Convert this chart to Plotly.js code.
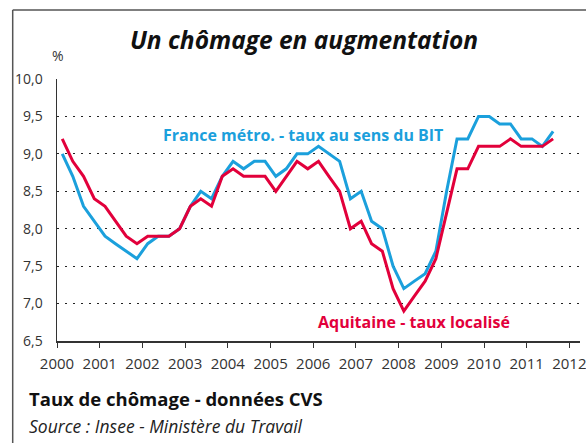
<!DOCTYPE html>
<html>
<head>
<meta charset="utf-8">
<script src="https://cdn.plot.ly/plotly-3.0.1.min.js"></script>
<style>
  html, body { margin: 0; padding: 0; background: #ffffff; }
  #chart { width: 586px; height: 443px; }
</style>
</head>
<body>
<div id="chart"></div>
<script>
// Quarterly unemployment rates, 2000 T1 -> 2011 T3 (seasonally adjusted, %)
const firstYear = 2000;
const quarterMid = ['02-15', '05-15', '08-15', '11-15'];

const franceMetro = [
  9.0, 8.7, 8.3, 8.1,
  7.9, 7.8, 7.7, 7.6,
  7.8, 7.9, 7.9, 8.0,
  8.3, 8.5, 8.4, 8.7,
  8.9, 8.8, 8.9, 8.9,
  8.7, 8.8, 9.0, 9.0,
  9.1, 9.0, 8.9, 8.4,
  8.5, 8.1, 8.0, 7.5,
  7.2, 7.3, 7.4, 7.7,
  8.5, 9.2, 9.2, 9.5,
  9.5, 9.4, 9.4, 9.2,
  9.2, 9.1, 9.3
];

const aquitaine = [
  9.2, 8.9, 8.7, 8.4,
  8.3, 8.1, 7.9, 7.8,
  7.9, 7.9, 7.9, 8.0,
  8.3, 8.4, 8.3, 8.7,
  8.8, 8.7, 8.7, 8.7,
  8.5, 8.7, 8.9, 8.8,
  8.9, 8.7, 8.5, 8.0,
  8.1, 7.8, 7.7, 7.2,
  6.9, 7.1, 7.3, 7.6,
  8.2, 8.8, 8.8, 9.1,
  9.1, 9.1, 9.2, 9.1,
  9.1, 9.1, 9.2
];

const seriesNames = ['France métro. - taux au sens du BIT', 'Aquitaine - taux localisé'];
const titleText = 'Un chômage en augmentation';
const footerTitle = 'Taux de chômage - données CVS';
const footerSource = 'Source : Insee - Ministère du Travail';
const unitLabel = '%';

const periods = franceMetro.map((_, i) =>
  (firstYear + Math.floor(i / 4)) + '-' + quarterMid[i % 4]);

const BLUE = '#1ba0dc';
const RED = '#e2003b';
const FONT = 'Open Sans, Lato, sans-serif';
const TEXT = '#1a1a1a';

const traces = [
  { x: periods, y: franceMetro, type: 'scatter', mode: 'lines', name: seriesNames[0],
    line: { color: BLUE, width: 3 }, hoverinfo: 'x+y' },
  { x: periods, y: aquitaine, type: 'scatter', mode: 'lines', name: seriesNames[1],
    line: { color: RED, width: 3 }, hoverinfo: 'x+y' }
];

const layout = {
  width: 586, height: 443,
  margin: { l: 57, r: 6, t: 79, b: 102, pad: 0 },
  paper_bgcolor: '#ffffff', plot_bgcolor: '#ffffff',
  showlegend: false,
  separators: ', ',
  font: { family: FONT, color: TEXT, size: 15 },
  title: {
    text: '<b><i>' + titleText + '</i></b>',
    font: { family: FONT, size: 24.5, color: '#111111' },
    x: 304 / 586, xanchor: 'center', xref: 'container',
    y: 1 - 40 / 443, yanchor: 'middle', yref: 'container'
  },
  xaxis: {
    type: 'date',
    range: ['2000-01-01', '2012-04-01'],
    tick0: '2000-01-01', dtick: 'M12', tickformat: '%Y',
    ticks: 'outside', ticklen: 5, tickwidth: 1, tickcolor: '#333333',
    showline: true, linecolor: '#333333', linewidth: 1.5,
    showgrid: false, zeroline: false,
    tickfont: { family: FONT, size: 15, color: '#333333' },
    ticklabelstandoff: 3,
    ticklabeloverflow: 'allow',
    fixedrange: true
  },
  yaxis: {
    range: [6.5, 10.0], tick0: 6.5, dtick: 0.5, tickformat: '.1f',
    showgrid: true, gridcolor: '#222222', gridwidth: 1, griddash: '2px,6px',
    showline: true, linecolor: '#333333', linewidth: 1.5,
    zeroline: false, ticks: '',
    tickfont: { family: FONT, size: 14, color: '#333333' },
    ticklabelstandoff: 10,
    fixedrange: true
  },
  annotations: [
    { text: '<b>' + seriesNames[0] + '</b>', xref: 'paper', yref: 'paper',
      x: (303 - 57) / 523, y: (341 - 135) / 262, xanchor: 'center', yanchor: 'middle',
      showarrow: false, font: { family: FONT, size: 16, color: BLUE } },
    { text: '<b>' + seriesNames[1] + '</b>', xref: 'paper', yref: 'paper',
      x: (414 - 57) / 523, y: (341 - 322) / 262, xanchor: 'center', yanchor: 'middle',
      showarrow: false, font: { family: FONT, size: 16, color: RED } },
    { text: unitLabel, xref: 'paper', yref: 'paper',
      x: (57.5 - 57) / 523, y: (341 - 55) / 262, xanchor: 'center', yanchor: 'middle',
      showarrow: false, font: { family: FONT, size: 14, color: '#333333' } },
    { text: '<b>' + footerTitle + '</b>', xref: 'paper', yref: 'paper',
      x: (27 - 57) / 523, y: (341 - 398) / 262, xanchor: 'left', yanchor: 'middle',
      showarrow: false, font: { family: FONT, size: 18.5, color: '#111111' } },
    { text: '<i>' + footerSource + '</i>', xref: 'paper', yref: 'paper',
      x: (27 - 57) / 523, y: (341 - 426) / 262, xanchor: 'left', yanchor: 'middle',
      showarrow: false, font: { family: FONT, size: 17.5, color: '#222222' } }
  ],
  shapes: [
    { type: 'line', xref: 'paper', yref: 'paper',
      x0: (12.7 - 57) / 523, x1: (12.7 - 57) / 523, y0: (341 - 10) / 262, y1: (341 - 445) / 262,
      line: { color: '#555555', width: 1.5 } },
    { type: 'line', xref: 'paper', yref: 'paper',
      x0: (12.7 - 57) / 523, x1: (590 - 57) / 523, y0: (341 - 10) / 262, y1: (341 - 10) / 262,
      line: { color: '#555555', width: 1.5 } }
  ]
};

Plotly.newPlot('chart', traces, layout, { displayModeBar: false, staticPlot: true });
</script>
</body>
</html>
